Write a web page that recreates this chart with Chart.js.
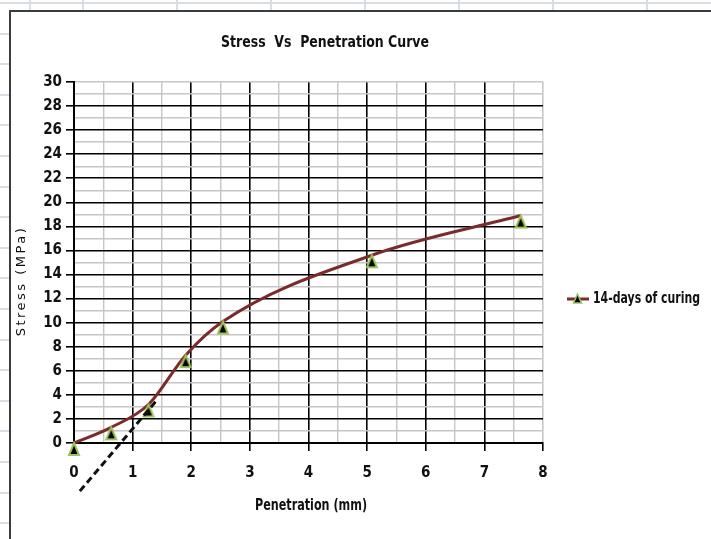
<!DOCTYPE html>
<html>
<head>
<meta charset="utf-8">
<title>Stress Vs Penetration Curve</title>
<script src="https://cdn.jsdelivr.net/npm/chart.js@4.4.1/dist/chart.umd.min.js"></script>
<style>
  html, body { margin: 0; padding: 0; }
  body {
    width: 711px; height: 539px; overflow: hidden; position: relative;
    background-color: #fff;
    background-image:
      repeating-linear-gradient(to bottom, #d8dde7 0 2px, transparent 2px 30.6px),
      repeating-linear-gradient(to right, #d8dde7 0 2px, transparent 2px 94px);
    background-position: 0 2px, 82px 0;
  }
  #frame {
    position: absolute; left: 9px; top: 10px; width: 720px; height: 540px;
    background: #fff;
    border-left: 2px solid #3c3c3c; border-top: 2px solid #3c3c3c;
  }
  #chart { display: block; }
</style>
</head>
<body>
<div id="frame"><canvas id="chart" width="700" height="527"></canvas></div>
<script>
"use strict";

// CBR-style penetration test, 14 days of curing
const penetration = [0, 0.635, 1.27, 1.905, 2.54, 5.08, 7.62];   // mm
const stress      = [0, 1.3, 3.2, 7.3, 10.1, 15.6, 18.9];        // MPa
const seriesName  = "14-days of curing";

// tangent used for the origin correction
const tangentX = [0.1, 1.42];
const tangentY = [-4.0, 3.6];

const xLabels = [0, 1, 2, 3, 4, 5, 6, 7, 8];
const yLabels = [0, 2, 4, 6, 8, 10, 12, 14, 16, 18, 20, 22, 24, 26, 28, 30];

const NARROW = "'Liberation Sans Narrow', 'DejaVu Sans Condensed', sans-serif";
const C = {
  line: "#7b2b2b",
  marker: "#9cc35a",
  major: "#000000",
  minor: "#c6c6c6",
  text: "#111111"
};

// triangle hanging just under its data point
function makeMarker() {
  const c = document.createElement("canvas");
  c.width = 16; c.height = 28;
  const g = c.getContext("2d");
  g.beginPath();
  g.moveTo(8, 14);
  g.lineTo(13, 26);
  g.lineTo(3, 26);
  g.closePath();
  g.fillStyle = "#000";
  g.fill();
  g.lineWidth = 2;
  g.strokeStyle = C.marker;
  g.stroke();
  return c;
}

const isMajor = (list, v) => list.includes(v);

// draw text squeezed horizontally to a given width
function fitText(ctx, text, cx, cy, width, align) {
  const w = ctx.measureText(text).width;
  const k = Math.min(1, width / w);
  ctx.save();
  ctx.translate(cx, cy);
  ctx.scale(k, 1);
  ctx.textAlign = align || "center";
  ctx.fillText(text, 0, 0);
  ctx.restore();
}

const chartText = {
  id: "chartText",
  afterDraw(chart) {
    const ctx = chart.ctx;
    ctx.save();
    ctx.fillStyle = C.text;
    ctx.textBaseline = "middle";

    // title
    ctx.font = "bold 16px " + NARROW;
    fitText(ctx, "Stress  Vs  Penetration Curve", 314, 31, 208);

    // x axis title
    ctx.font = "bold 16px " + NARROW;
    fitText(ctx, "Penetration (mm)", 300, 494, 112);

    // y axis title
    ctx.save();
    ctx.translate(11, 269);
    ctx.rotate(-Math.PI / 2);
    ctx.font = "13px 'DejaVu Sans', sans-serif";
    ctx.letterSpacing = "2.5px";
    ctx.textAlign = "center";
    ctx.fillText("Stress (MPa)", 0, 0);
    ctx.restore();

    // legend: line + marker + label
    const ds = chart.data.datasets[0];
    const ly = 287;
    ctx.strokeStyle = ds.borderColor;
    ctx.lineWidth = 3;
    ctx.beginPath();
    ctx.moveTo(556, ly);
    ctx.lineTo(578, ly);
    ctx.stroke();
    ctx.beginPath();
    ctx.moveTo(566.5, ly - 5);
    ctx.lineTo(570.5, ly + 4);
    ctx.lineTo(562.5, ly + 4);
    ctx.closePath();
    ctx.fillStyle = "#000";
    ctx.fill();
    ctx.lineWidth = 1.5;
    ctx.strokeStyle = C.marker;
    ctx.stroke();
    ctx.fillStyle = C.text;
    ctx.font = "bold 16px " + NARROW;
    fitText(ctx, ds.label, 582, ly, 107, "left");
    ctx.restore();
  }
};

function boot() {
  const marker = makeMarker();

  new Chart(document.getElementById("chart"), {
    type: "line",
    data: {
      datasets: [{
        label: seriesName,
        data: penetration.map((x, i) => ({ x, y: stress[i] })),
        borderColor: C.line,
        borderWidth: 3,
        cubicInterpolationMode: "monotone",
        pointStyle: marker,
        pointRadius: 5,
        clip: false,
        order: 2
      }, {
        label: "tangent",
        data: tangentX.map((x, i) => ({ x, y: tangentY[i] })),
        borderColor: "#111",
        borderWidth: 3,
        borderDash: [7, 4],
        pointRadius: 0,
        tension: 0,
        clip: false,
        order: 1
      }]
    },
    options: {
      responsive: false,
      animation: false,
      layout: { padding: { left: 0, top: 70, right: 168, bottom: 0 } },
      plugins: {
        legend: { display: false },
        title: { display: false },
        tooltip: { enabled: false }
      },
      scales: {
        x: {
          type: "linear",
          min: 0,
          max: 8,
          afterFit: s => { s.height = 96; },
          border: { display: true, color: C.major, width: 2 },
          grid: {
            color: c => (isMajor(xLabels, c.tick.value) && c.tick.value !== 8) ? C.major : C.minor,
            lineWidth: c => isMajor(xLabels, c.tick.value) ? 1.6 : 1.4,
            tickColor: c => isMajor(xLabels, c.tick.value) ? C.major : "rgba(0,0,0,0)",
            tickLength: 8,
            tickWidth: 1.6
          },
          ticks: {
            stepSize: 0.5,
            autoSkip: false,
            maxRotation: 0,
            padding: 13,
            color: C.text,
            font: { family: NARROW, size: 15, weight: "bold" },
            callback: v => isMajor(xLabels, v) ? v : ""
          }
        },
        y: {
          min: 0,
          max: 30,
          afterFit: s => { s.width = 63; },
          border: { display: true, color: C.major, width: 2 },
          grid: {
            color: c => (isMajor(yLabels, c.tick.value) && c.tick.value !== 30) ? C.major : C.minor,
            lineWidth: c => isMajor(yLabels, c.tick.value) ? 1.6 : 1.4,
            tickColor: c => isMajor(yLabels, c.tick.value) ? C.major : "rgba(0,0,0,0)",
            tickLength: 8,
            tickWidth: 1.6
          },
          ticks: {
            stepSize: 1,
            autoSkip: false,
            padding: 4,
            color: C.text,
            font: { family: NARROW, size: 15, weight: "bold" },
            callback: v => isMajor(yLabels, v) ? v : ""
          }
        }
      }
    },
    plugins: [chartText]
  });
}

document.readyState === "loading"
  ? document.addEventListener("DOMContentLoaded", boot)
  : boot();
</script>
</body>
</html>
